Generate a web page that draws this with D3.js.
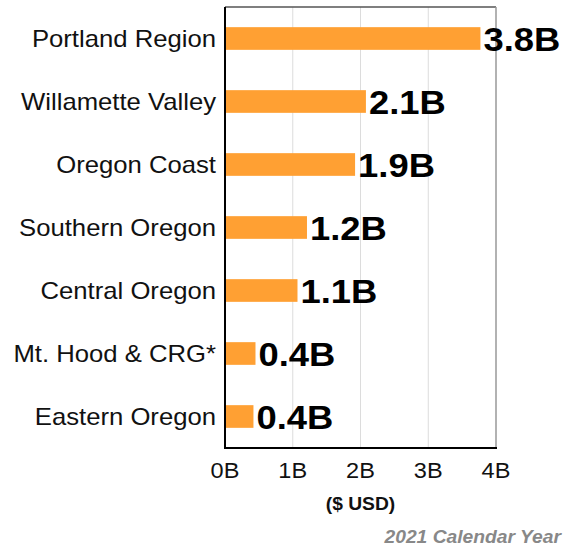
<!DOCTYPE html>
<html>
<head>
<meta charset="utf-8">
<script src="https://cdn.jsdelivr.net/npm/d3@7"></script>
<style>
  body { margin: 0; background: #fff; }
  svg { display: block; font-family: Arial, "Liberation Sans", sans-serif; }
</style>
</head>
<body>
<svg width="565" height="548"></svg>
<script>
// regions, values (billions USD) and the label shown at the end of each bar
const regions = ["Portland Region", "Willamette Valley", "Oregon Coast", "Southern Oregon",
                 "Central Oregon", "Mt. Hood & CRG*", "Eastern Oregon"];
const spending = [3.77, 2.08, 1.92, 1.21, 1.07, 0.45, 0.42];
const valueLabels = ["3.8B", "2.1B", "1.9B", "1.2B", "1.1B", "0.4B", "0.4B"];
const xTicks = [0, 1, 2, 3, 4];
const tickLabels = ["0B", "1B", "2B", "3B", "4B"];

const svg = d3.select("svg");
const margin = { top: 7, right: 69, bottom: 100, left: 225 };
const width = 565 - margin.left - margin.right;
const height = 548 - margin.top - margin.bottom;
const stretch = 1.07; // source text is a bit wider than plain Arial

const g = svg.append("g").attr("transform", `translate(${margin.left},${margin.top})`);

const x = d3.scaleLinear().domain([0, 4]).range([0, width]);
const y = d3.scaleBand().domain(regions).range([0, height]).paddingInner(0.64).paddingOuter(0.32);

// helper: place text with a slight horizontal stretch
function place(sel, px, py) {
  return sel.attr("transform", (d, i) => {
    const xx = typeof px === "function" ? px(d, i) : px;
    const yy = typeof py === "function" ? py(d, i) : py;
    return `translate(${xx},${yy}) scale(${stretch},1)`;
  });
}

// gridlines
g.selectAll(".grid").data(xTicks.slice(1, -1)).enter()
  .append("line")
  .attr("x1", d => x(d)).attr("x2", d => x(d))
  .attr("y1", 0).attr("y2", height)
  .attr("stroke", "#dcdcdc").attr("stroke-width", 1);

// frame: top and right in gray
g.append("line").attr("x1", 0).attr("x2", width).attr("y1", 0).attr("y2", 0)
  .attr("stroke", "#555").attr("stroke-width", 1.5);
g.append("line").attr("x1", width).attr("x2", width).attr("y1", 0).attr("y2", height)
  .attr("stroke", "#999").attr("stroke-width", 1.5);

// bars
g.selectAll(".bar").data(regions).enter()
  .append("rect")
  .attr("x", 0)
  .attr("y", d => y(d))
  .attr("width", (d, i) => x(spending[i]))
  .attr("height", y.bandwidth())
  .attr("fill", "#ffa033");

// value labels
place(g.selectAll(".val").data(regions).enter().append("text"),
    (d, i) => x(spending[i]) + 3, d => y(d) + y.bandwidth() / 2 + 12.5)
  .attr("font-size", 34).attr("font-weight", "bold").attr("fill", "#000")
  .text((d, i) => valueLabels[i]);

// category labels
place(g.selectAll(".cat").data(regions).enter().append("text"),
    -9, d => y(d) + y.bandwidth() / 2 + 8.5)
  .attr("text-anchor", "end")
  .attr("font-size", 24).attr("fill", "#111")
  .text(d => d);

// axes (left and bottom black)
g.append("line").attr("x1", 0).attr("x2", 0).attr("y1", 0).attr("y2", height)
  .attr("stroke", "#000").attr("stroke-width", 2);
g.append("line").attr("x1", -1).attr("x2", width + 1).attr("y1", height).attr("y2", height)
  .attr("stroke", "#000").attr("stroke-width", 2);

// tick labels
place(g.selectAll(".tick").data(xTicks).enter().append("text"),
    d => x(d), height + 30)
  .attr("text-anchor", "middle")
  .attr("font-size", 22).attr("fill", "#111")
  .text((d, i) => tickLabels[i]);

// axis title
place(g.append("text"), width / 2, height + 62)
  .attr("text-anchor", "middle")
  .attr("font-size", 18).attr("font-weight", "bold").attr("fill", "#111")
  .text("($ USD)");

// footnote
place(svg.append("text"), 561, 543)
  .attr("text-anchor", "end")
  .attr("font-size", 18).attr("font-weight", "bold").attr("font-style", "italic")
  .attr("fill", "#888")
  .text("2021 Calendar Year");
</script>
</body>
</html>
